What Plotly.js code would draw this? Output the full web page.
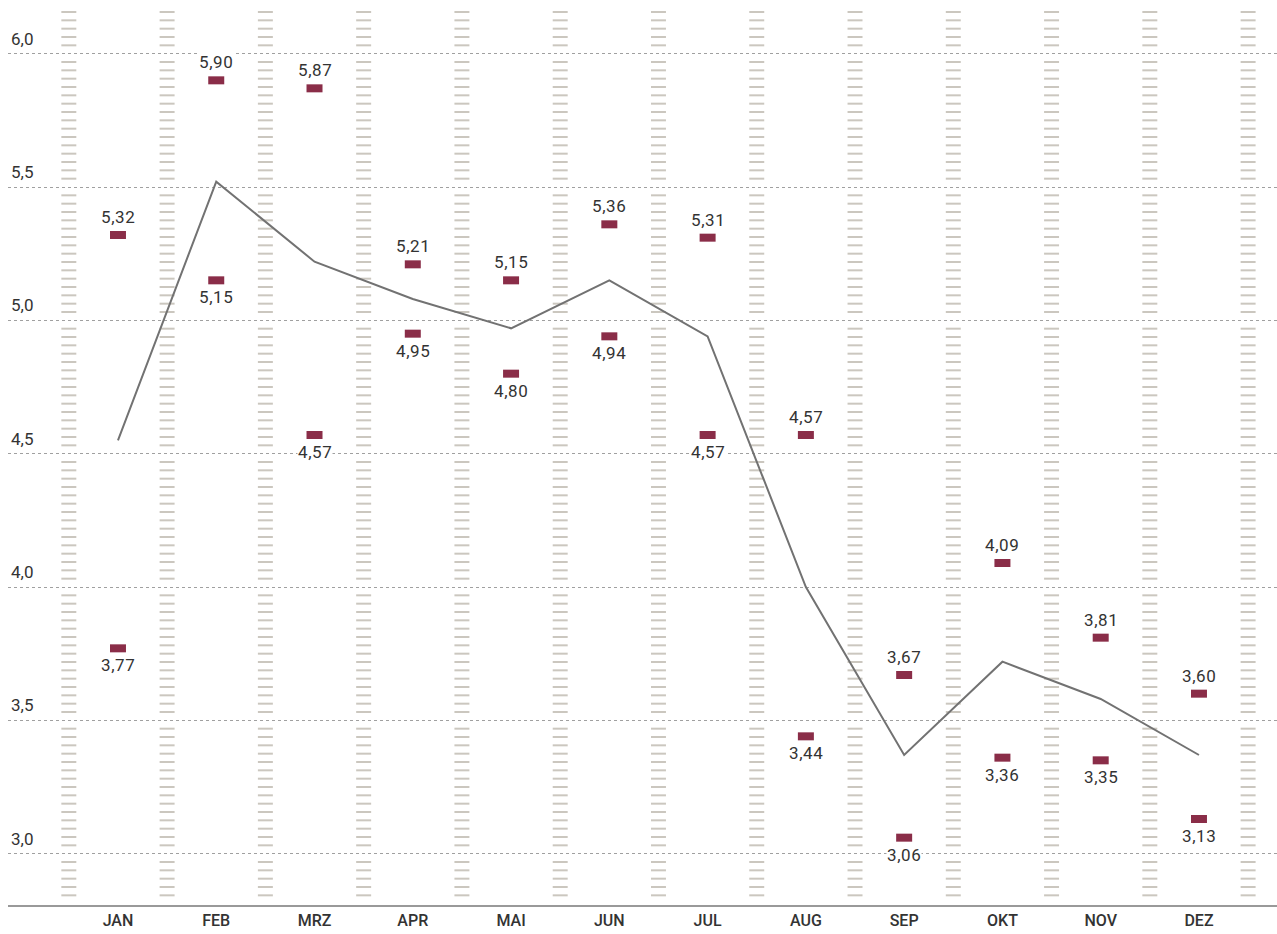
<!DOCTYPE html>
<html>
<head>
<meta charset="utf-8">
<script src="https://cdn.plot.ly/plotly-3.0.1.min.js"></script>
<style>
html,body{margin:0;padding:0;background:#fff;}
#chart{width:1277px;height:934px;}
.annotation-text{letter-spacing:0.6px;}
</style>
</head>
<body>
<div id="chart"></div>
<script>
var months = ['JAN','FEB','MRZ','APR','MAI','JUN','JUL','AUG','SEP','OKT','NOV','DEZ'];
var maxValues = [5.32, 5.90, 5.87, 5.21, 5.15, 5.36, 5.31, 4.57, 3.67, 4.09, 3.81, 3.60];
var minValues = [3.77, 5.15, 4.57, 4.95, 4.80, 4.94, 4.57, 3.44, 3.06, 3.36, 3.35, 3.13];
var avgValues = [4.55, 5.52, 5.22, 5.08, 4.97, 5.15, 4.94, 4.00, 3.37, 3.72, 3.58, 3.37];
var yTicks = [3.0, 3.5, 4.0, 4.5, 5.0, 5.5, 6.0];
var yTickLabels = ['3,0','3,5','4,0','4,5','5,0','5,5','6,0'];

var xIdx = months.map(function(m, i){ return i; });
function fmt(v){ return v.toFixed(2).replace('.', ','); }

// decorative striped columns between the months
var stripeX = [], stripeY = [];
for (var c = -0.5; c <= 11.5; c += 1) {
  for (var k = 91; k <= 197; k++) {
    if (k % 16 === 0) continue;
    stripeX.push(c); stripeY.push(k / 32);
  }
}

var markerColor = '#8a2d48';
var traces = [
  {x: stripeX, y: stripeY, type: 'scatter', mode: 'markers', hoverinfo: 'skip',
   marker: {symbol: 'line-ew', size: 10.7, color: '#cbc7bf', line: {color: '#cbc7bf', width: 2}}},
  {x: xIdx, y: avgValues, type: 'scatter', mode: 'lines',
   line: {color: '#727272', width: 2}},
  {x: xIdx, y: maxValues, type: 'scatter', mode: 'markers',
   marker: {symbol: 'line-ew', size: 11.43, color: markerColor, line: {color: markerColor, width: 8}}},
  {x: xIdx, y: minValues, type: 'scatter', mode: 'markers',
   marker: {symbol: 'line-ew', size: 11.43, color: markerColor, line: {color: markerColor, width: 8}}}
];

var labelFont = {family: 'Roboto, sans-serif', size: 17, color: '#333333', weight: 400};
var annotations = [];
xIdx.forEach(function(i){
  annotations.push({x: i, y: maxValues[i], xref: 'x', yref: 'y', text: fmt(maxValues[i]),
    showarrow: false, yshift: 18, yanchor: 'middle', bgcolor: '#ffffff', borderpad: 0,
    font: labelFont});
  annotations.push({x: i, y: minValues[i], xref: 'x', yref: 'y', text: fmt(minValues[i]),
    showarrow: false, yshift: -17, yanchor: 'middle', bgcolor: '#ffffff', borderpad: 0,
    font: labelFont});
});

var layout = {
  width: 1277, height: 934,
  margin: {l: 8, r: 0, t: 11, b: 29, pad: 0},
  paper_bgcolor: '#ffffff', plot_bgcolor: '#ffffff',
  showlegend: false,
  separators: ',.',
  xaxis: {
    range: [-1.119, 11.794], tickvals: xIdx, ticktext: months,
    showgrid: false, zeroline: false, ticks: '',
    showline: true, linecolor: '#999999', linewidth: 2,
    tickfont: {family: 'Roboto, sans-serif', size: 16, color: '#333333', weight: 500},
    fixedrange: true
  },
  yaxis: {
    range: [2.8075, 6.16], tickvals: yTicks, ticktext: yTickLabels,
    showgrid: true, gridcolor: '#a0a0a0', gridwidth: 1, griddash: '3px,3px',
    zeroline: false, showline: false, ticks: '',
    ticklabelposition: 'inside top', ticklabelshift: -3,
    tickfont: {family: 'Roboto, sans-serif', size: 17, color: '#333333', weight: 400},
    fixedrange: true
  },
  annotations: annotations
};

Plotly.newPlot('chart', traces, layout, {displayModeBar: false, staticPlot: true});
</script>
</body>
</html>
